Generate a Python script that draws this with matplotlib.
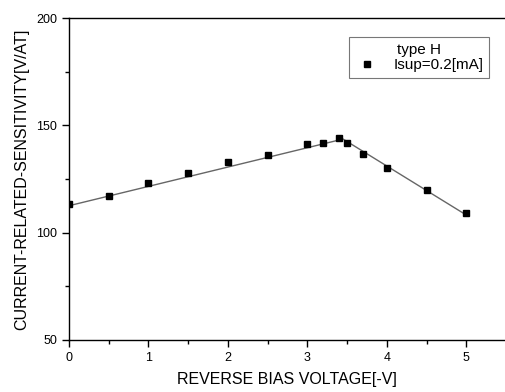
import matplotlib.pyplot as plt
from matplotlib.ticker import MultipleLocator

plt.rcParams['font.family'] = ['Liberation Sans', 'DejaVu Sans']

# measured points
voltage = [0, 0.5, 1, 1.5, 2, 2.5, 3, 3.2, 3.4, 3.5, 3.7, 4, 4.5, 5]
sensitivity = [113.3, 117, 123.2, 128, 132.9, 136.3, 141.2, 141.9, 144.2, 141.9, 136.5, 130.2, 120, 109]

# fitted line (two linear segments)
fit_x = [0, 3.45, 5]
fit_y = [112.5, 143.6, 108.2]

fig = plt.figure(figsize=(5.06, 3.92), dpi=100)
ax = fig.add_axes([0.136, 0.133, 0.864, 0.821])

ax.plot(fit_x, fit_y, color='#666666', lw=1.0, zorder=2)
ax.plot(voltage, sensitivity, 's', color='black', markersize=5, zorder=3,
        label='Isup=0.2[mA]')

ax.set_xlim(0, 5.5)
ax.set_ylim(50, 200)
ax.xaxis.set_major_locator(MultipleLocator(1))
ax.xaxis.set_minor_locator(MultipleLocator(0.5))
ax.yaxis.set_major_locator(MultipleLocator(50))
ax.yaxis.set_minor_locator(MultipleLocator(25))
ax.tick_params(which='major', length=5, width=1, labelsize=9)
ax.tick_params(which='minor', length=3, width=1)
for s in ax.spines.values():
    s.set_linewidth(1.0)

ax.set_xlabel('REVERSE BIAS VOLTAGE[-V]', fontsize=11.5, labelpad=6)
ax.set_ylabel('CURRENT-RELATED-SENSITIVITY[V/AT]', fontsize=11.5, labelpad=5)

leg = ax.legend(title='type H', loc='upper right', bbox_to_anchor=(0.962, 0.942),
                fontsize=11, title_fontsize=11, fancybox=False, edgecolor='#555555',
                handletextpad=0.9, borderpad=0.4, handlelength=1.6, markerscale=0.85,
                labelspacing=0.1, borderaxespad=0)
leg.get_frame().set_linewidth(0.8)

fig.savefig('out.png', dpi=100)
